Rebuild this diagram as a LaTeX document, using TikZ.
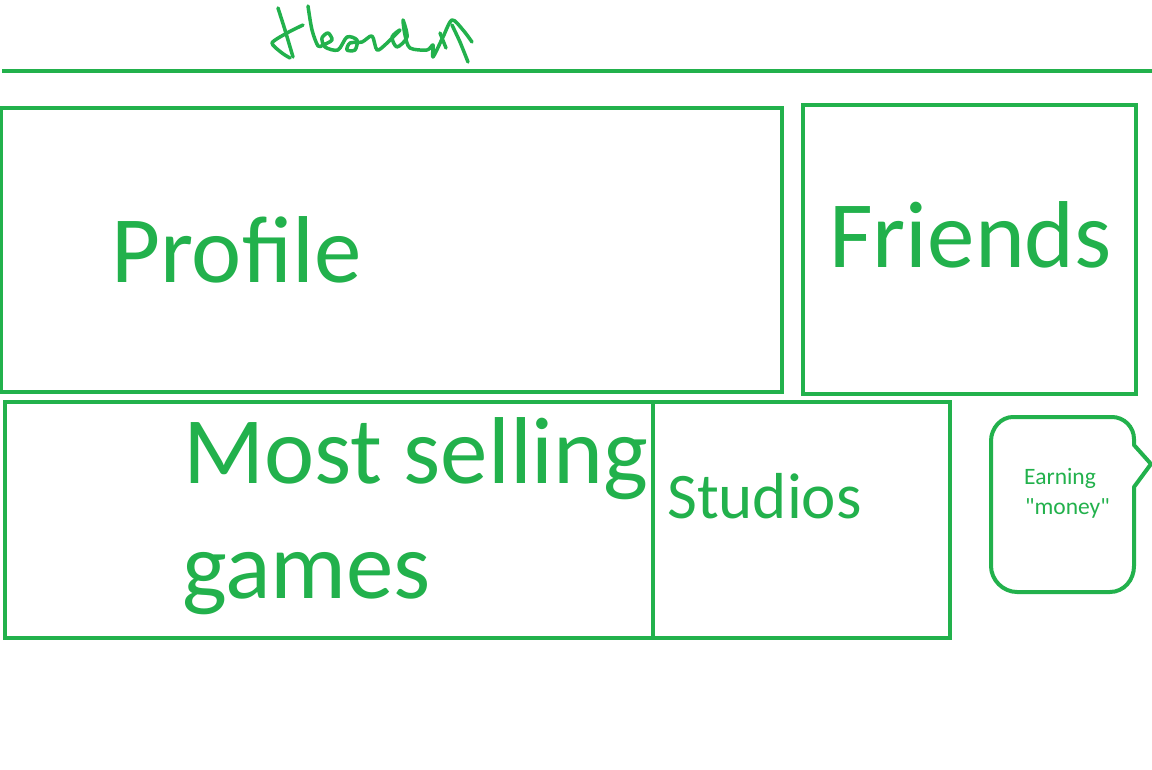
\documentclass[tikz,border=0pt]{standalone}
\usepackage{fontspec}
\newfontfamily\calfont{Carlito}
\definecolor{pgreen}{HTML}{22B14C}
\begin{document}
\begin{tikzpicture}[x=1pt,y=-1pt,
  box/.style={draw=pgreen,line width=4pt},
  lbl/.style={text=pgreen,anchor=base west,inner sep=0pt},
  big/.style={lbl,font=\calfont\fontsize{95}{95}\selectfont},
  ink/.style={draw=pgreen,line width=3.5pt,line cap=round,line join=round}]
\useasboundingbox (0,0) rectangle (1152,770);
\fill[white] (0,0) rectangle (1152,770);
% header scribble
\draw[ink] plot[smooth,tension=0.4] coordinates {(278,8) (285,30) (293,57)};
\draw[ink] plot[smooth,tension=0.4] coordinates {(303,25) (287,33) (272,43) (282,53) (290,58)};
\draw[ink] plot[smooth,tension=0.5] coordinates {(308,6) (312,30) (318,46) (323,45) (332,40) (328,33) (322,38) (325,47) (338,50) (347,37) (357,40) (355,50) (347,50) (350,43) (362,42) (372,36) (377,50) (386,44) (400,30) (392,37) (397,47) (407,37) (403,20) (405,35) (410,48) (427,50) (433,45) (433,57) (443,37) (452,20) (463,30) (472,42)};
\draw[ink] plot[smooth,tension=0.4] coordinates {(452,25) (460,42) (468,62)};
\draw[ink] (440,33) -- (446,48);
% header line
\draw[pgreen,line width=4pt] (2,71) coordinate (hl) -- (1152,71) coordinate (hr);
% boxes
\draw[box] (1,108) rectangle (782,392);
\node[big] (profile) at (111,283) {Profile};
\draw[box] (803,105) rectangle (1136,394);
\node[big] (friends) at (829,268) {Friends};
\draw[box] (5,402) rectangle (653,638);
\node[big] (most) at (183,483) {Most selling};
\node[big] (games) at (182,598) {games};
\draw[box] (653,402) rectangle (950,638);
\node[lbl,font=\calfont\fontsize{65}{65}\selectfont] (studios) at (667,518) {Studios};
% callout
\draw[box,line join=round] (1013,417) -- (1112,417) .. controls (1124,417) and (1134,427) .. (1134,439) -- (1134,445) -- (1151,464) -- (1134,487) -- (1134,566) .. controls (1134,580) and (1124,592) .. (1110,592) -- (1017,592) .. controls (1003,592) and (991,580) .. (991,566) -- (991,441) .. controls (991,428) and (1001,417) .. (1013,417) -- cycle;
\node[lbl,font=\calfont\fontsize{23.5}{23.5}\selectfont] (earn) at (1024,484) {Earning};
\node[lbl,font=\calfont\fontsize{23.5}{23.5}\selectfont] (money) at (1025,514) {"money"};
\end{tikzpicture}
\end{document}
